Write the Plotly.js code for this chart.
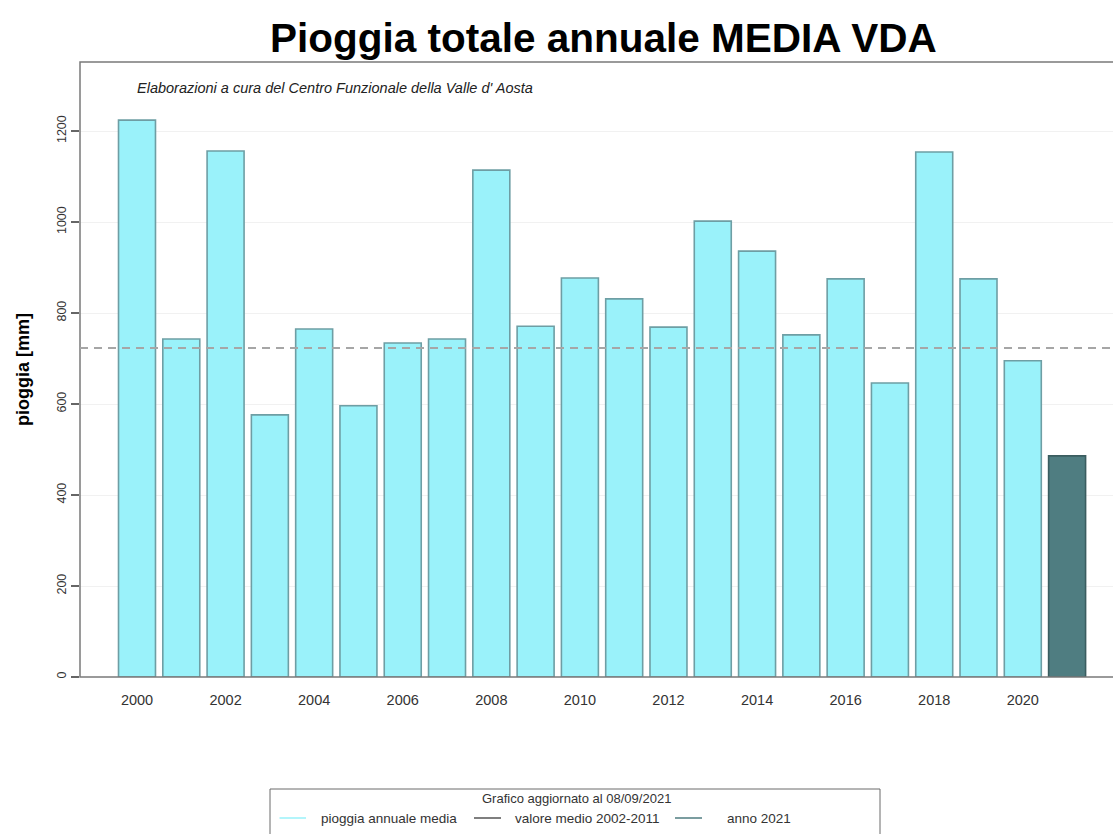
<!DOCTYPE html>
<html>
<head>
<meta charset="utf-8">
<script src="https://cdn.plot.ly/plotly-3.0.1.min.js"></script>
<style>
  html, body { margin: 0; padding: 0; background: #ffffff; overflow: hidden; }
  #chart { width: 1113px; height: 834px; }
</style>
</head>
<body>
<div id="chart"></div>
<script>
// ---- data ----
const years = [2000, 2001, 2002, 2003, 2004, 2005, 2006, 2007, 2008, 2009, 2010,
               2011, 2012, 2013, 2014, 2015, 2016, 2017, 2018, 2019, 2020, 2021];
const rain = [1224, 743, 1156, 576, 765, 596, 734, 743, 1114, 771, 877,
              831, 769, 1002, 936, 752, 875, 646, 1154, 875, 695, 486];
const meanValue = 723;          // valore medio 2002-2011 (dashed line)
const currentYear = 2021;
const xTickYears = [2000, 2002, 2004, 2006, 2008, 2010, 2012, 2014, 2016, 2018, 2020];
const yTicks = [0, 200, 400, 600, 800, 1000, 1200];

const titleText = 'Pioggia totale annuale MEDIA VDA';
const creditText = "Elaborazioni a cura del Centro Funzionale della Valle d' Aosta";
const legendTitle = 'Grafico aggiornato al 08/09/2021';
const legendLabels = ['pioggia annuale media', 'valore medio 2002-2011', 'anno 2021'];

// ---- styles ----
const cyan = '#9af2fa';
const cyanEdge = '#6e9ea4';
const teal = '#4f7d81';
const tealEdge = '#3b5d60';
const font = 'Liberation Sans, Arial, sans-serif';

const fillColors = years.map(y => y === currentYear ? teal : cyan);
const edgeColors = years.map(y => y === currentYear ? tealEdge : cyanEdge);

const trace = {
  type: 'bar',
  x: years,
  y: rain,
  width: 0.835,
  marker: { color: fillColors, line: { color: edgeColors, width: 1.6 } },
  hoverinfo: 'x+y',
  showlegend: false
};

// paper conversions (plot area x: 80..1113, y: 62..677)
const L = 80, R = 1113, T = 62, B = 677;
const px = x => (x - L) / (R - L);
const py = y => (B - y) / (B - T);

const legendRowY = py(818);
const legendLineColors = ['#9af2fa', '#555555', teal];
const legendLineX = [[279.5, 306], [474, 501], [675, 702]];
const legendTextX = [319, 513, 725];

const shapes = [
  // plot frame (right side falls outside the page)
  { type: 'rect', xref: 'paper', yref: 'paper', x0: 0, x1: 1.1, y0: 0, y1: 1,
    line: { color: '#7a7a7a', width: 1.5 }, layer: 'above' },
  // mean line
  { type: 'line', xref: 'paper', yref: 'y', x0: 0, x1: 1, y0: meanValue, y1: meanValue,
    line: { color: '#a6a6a6', width: 2, dash: '8px,6px' }, layer: 'above' },
  // legend box
  { type: 'rect', xref: 'paper', yref: 'paper', x0: px(270), x1: px(880), y0: py(860), y1: py(789),
    line: { color: '#6a6a6a', width: 1 } }
];
legendLineX.forEach((lx, i) => {
  shapes.push({ type: 'line', xref: 'paper', yref: 'paper', x0: px(lx[0]), x1: px(lx[1]),
    y0: legendRowY, y1: legendRowY, line: { color: legendLineColors[i], width: 1.5 } });
});

const annotations = [
  { text: titleText, xref: 'paper', yref: 'paper', x: px(603), y: py(38), xanchor: 'center', yanchor: 'middle',
    showarrow: false, font: { family: font, size: 40.5, color: '#000000', weight: 'bold' } },
  { text: '<i>' + creditText + '</i>', xref: 'paper', yref: 'paper', x: px(135), y: py(88),
    xanchor: 'left', yanchor: 'middle', showarrow: false, font: { family: font, size: 14.5, color: '#222222' } },
  { text: legendTitle, xref: 'paper', yref: 'paper', x: px(576), y: py(798), xanchor: 'center', yanchor: 'middle',
    showarrow: false, font: { family: font, size: 13, color: '#333333' } }
];
legendLabels.forEach((t, i) => {
  annotations.push({ text: t, xref: 'paper', yref: 'paper', x: px(legendTextX[i]), y: legendRowY,
    xanchor: 'left', yanchor: 'middle', showarrow: false, font: { family: font, size: 13.5, color: '#333333' } });
});

const layout = {
  width: 1113,
  height: 834,
  margin: { l: L, r: 0, t: T, b: 834 - B, pad: 0 },
  paper_bgcolor: '#ffffff',
  plot_bgcolor: '#ffffff',
  font: { family: font, color: '#333333' },
  showlegend: false,
  xaxis: {
    type: 'linear',
    range: [2000 - (137 - L) / 44.29, 2000 + (R - 137) / 44.29],
    tickvals: xTickYears,
    ticktext: xTickYears.map(String),
    ticks: '',
    showline: false,
    showgrid: false,
    zeroline: false,
    ticklabelstandoff: 12,
    tickfont: { family: font, size: 14.5, color: '#333333' }
  },
  yaxis: {
    range: [0, (B - T) / 0.455],
    tickvals: yTicks,
    ticktext: yTicks.map(String),
    ticks: 'outside',
    ticklen: 8,
    tickwidth: 1.2,
    tickcolor: '#666666',
    tickangle: -90,
    showline: false,
    showgrid: true,
    gridcolor: '#f1f1f1',
    gridwidth: 1,
    zeroline: false,
    tickfont: { family: font, size: 12.5, color: '#333333' },
    title: { text: '<b>pioggia [mm]</b>', standoff: 20, font: { family: font, size: 18, color: '#000000' } }
  },
  shapes: shapes,
  annotations: annotations
};

Plotly.newPlot('chart', [trace], layout, { displayModeBar: false, staticPlot: true });
</script>
</body>
</html>
